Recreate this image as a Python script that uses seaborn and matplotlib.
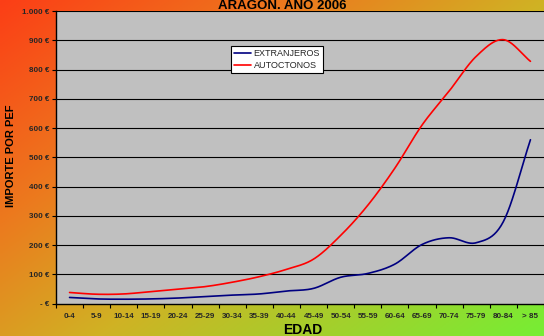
import numpy as np
import pandas as pd
import matplotlib
matplotlib.use("Agg")
import matplotlib.pyplot as plt
import seaborn as sns

# Age groups and average amount per person (euros)
edades = ["0-4", "5-9", "10-14", "15-19", "20-24", "25-29", "30-34", "35-39",
          "40-44", "45-49", "50-54", "55-59", "60-64", "65-69", "70-74",
          "75-79", "80-84", "> 85"]
extranjeros = [21, 16, 15, 16, 19, 24, 29, 33, 43, 52, 90, 103, 135, 202,
               225, 208, 280, 560]
autoctonos = [38, 32, 33, 41, 49, 58, 73, 92, 117, 152, 233, 336, 463, 610,
              726, 845, 902, 828]
yticks = [0, 100, 200, 300, 400, 500, 600, 700, 800, 900, 1000]
ytick_labels = ["- €", "100 €", "200 €", "300 €", "400 €", "500 €", "600 €",
                "700 €", "800 €", "900 €", "1.000 €"]

sns.set_theme(style="white")
plt.rcParams["font.family"] = ["Liberation Sans Narrow", "Liberation Sans", "DejaVu Sans"]


def smooth(values, n=24):
    """Catmull-Rom path through the points, like a smoothed line chart."""
    y = np.asarray(values, dtype=float)
    p = np.concatenate([[2 * y[0] - y[1]], y, [2 * y[-1] - y[-2]]])
    xs, ys = [], []
    for i in range(len(y) - 1):
        p0, p1, p2, p3 = p[i], p[i + 1], p[i + 2], p[i + 3]
        t = np.linspace(0, 1, n, endpoint=False)
        seg = 0.5 * ((2 * p1) + (-p0 + p2) * t + (2 * p0 - 5 * p1 + 4 * p2 - p3) * t ** 2
                     + (-p0 + 3 * p1 - 3 * p2 + p3) * t ** 3)
        xs.append(i + t)
        ys.append(seg)
    xs.append([len(y) - 1])
    ys.append([y[-1]])
    return np.concatenate(xs), np.concatenate(ys)


W, H = 544, 336
fig = plt.figure(figsize=(W / 100, H / 100), dpi=100)

# Diagonal background gradient: red-orange -> amber -> green
bg = fig.add_axes([0, 0, 1, 1], zorder=-10)
gx, gy = np.meshgrid(np.linspace(0, 1, 200), np.linspace(0, 1, 130))
t = (gx * 0.55 + gy * 0.45)
stops = np.array([0.0, 0.3, 0.55, 1.0])
cols = np.array([[252, 62, 22], [236, 122, 30], [208, 178, 36], [118, 238, 52]]) / 255
img = np.stack([np.interp(t, stops, cols[:, c]) for c in range(3)], axis=-1)
bg.imshow(img, extent=[0, 1, 0, 1], aspect="auto", origin="upper")
bg.set_axis_off()

ax = fig.add_axes([56 / W, (H - 303.6) / H, 1 - 56 / W, (303.6 - 11) / H])
ax.set_facecolor("#C0C0C0")

rows = []
for name, vals in [("EXTRANJEROS", extranjeros), ("AUTOCTONOS", autoctonos)]:
    sx, sy = smooth(vals)
    rows.append(pd.DataFrame({"x": sx, "y": sy, "serie": name}))
df = pd.concat(rows, ignore_index=True)

sns.lineplot(data=df, x="x", y="y", hue="serie", sort=False,
             palette={"EXTRANJEROS": "#000080", "AUTOCTONOS": "#FF0000"},
             linewidth=1.2, ax=ax, zorder=3)

ax.set_xlim(-0.5, len(edades) - 0.5)
ax.set_ylim(0, 1000)
ax.set_yticks(yticks)
ax.set_yticklabels(ytick_labels)
for v in yticks[1:]:
    ax.axhline(v, color="black", linewidth=0.8, zorder=1)

ax.set_xticks(range(len(edades)))
ax.set_xticklabels(edades)
ax.set_xticks(np.arange(-0.5, len(edades)), minor=True)
ax.tick_params(axis="x", which="major", length=0, pad=7, labelsize=5.8)
ax.tick_params(axis="x", which="minor", length=3, width=0.8, color="black", direction="out", bottom=True)
ax.tick_params(axis="y", length=3, width=0.8, color="black", direction="out", left=True,
               pad=2, labelsize=5.8)
for lab in ax.get_xticklabels() + ax.get_yticklabels():
    lab.set_fontweight("bold")

for side in ["top", "right"]:
    ax.spines[side].set_visible(False)
for side in ["left", "bottom"]:
    ax.spines[side].set_color("black")
    ax.spines[side].set_linewidth(1.0)

ax.set_xlabel("")
ax.set_ylabel("")

leg = ax.legend(loc="upper left", bbox_to_anchor=(0.358, 0.881), borderaxespad=0,
                frameon=True, fancybox=False, fontsize=6.5, handlelength=1.9,
                handletextpad=0.3, borderpad=0.35, labelspacing=0.35)
leg.get_frame().set_edgecolor("black")
leg.get_frame().set_linewidth(0.8)
leg.get_frame().set_facecolor("white")
leg.get_frame().set_alpha(1)

fig.text(282 / W, 1 - 9 / H, "ARAGON. AÑO 2006", ha="center", va="baseline",
         fontsize=9.5, fontweight="bold", color="black")
fig.text(303 / W, 1 - 330 / H, "EDAD", ha="center", va="center",
         fontsize=10, fontweight="bold", color="black")
fig.text(11 / W, 1 - 156 / H, "IMPORTE POR PEF", ha="center", va="center",
         rotation=90, fontsize=8, fontweight="bold", color="black")

fig.savefig("out.png", dpi=100)
